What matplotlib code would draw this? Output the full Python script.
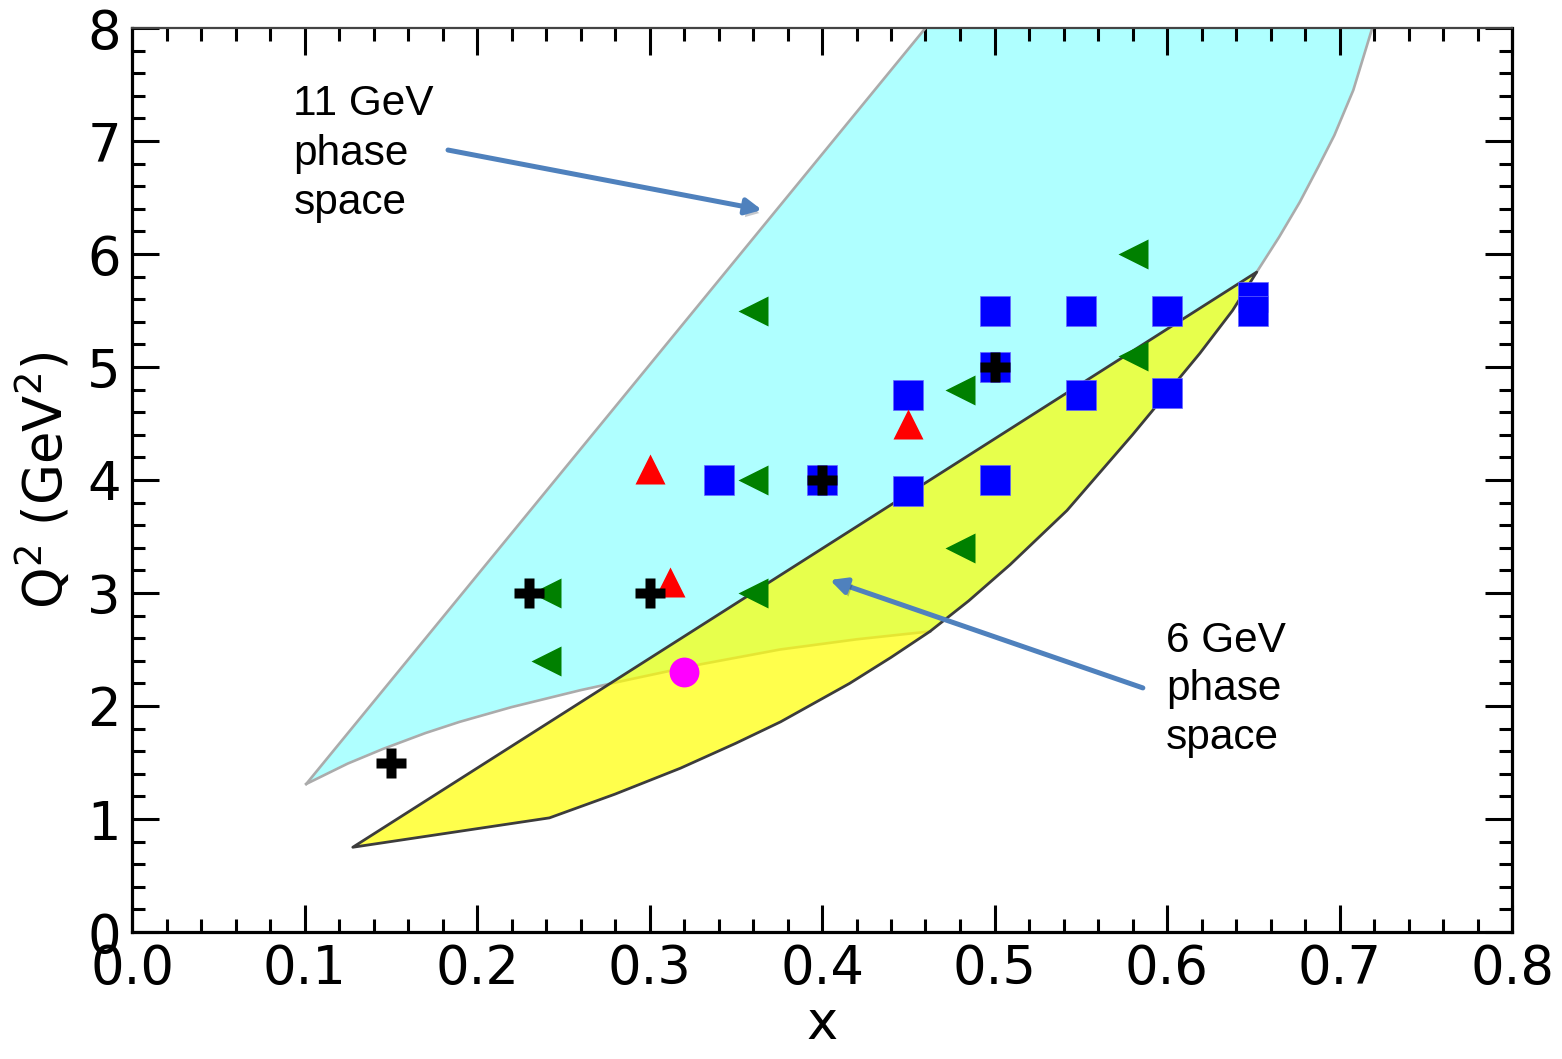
import matplotlib
matplotlib.use("Agg")
import matplotlib.pyplot as plt
import matplotlib.patheffects as pe
from matplotlib.ticker import MultipleLocator

# ---------------- data ----------------
# 11 GeV phase space boundary pieces
ps11_upper_x = [0.101, 0.460]
ps11_upper_y = [1.31, 8.00]
ps11_right_x = [0.652, 0.665, 0.677, 0.688, 0.697, 0.708, 0.719]
ps11_right_y = [5.84, 6.15, 6.46, 6.78, 7.05, 7.45, 8.00]
ps11_lower_x = [0.101, 0.125, 0.1455, 0.17, 0.19, 0.22, 0.26, 0.29, 0.33, 0.3757, 0.42, 0.4626]
ps11_lower_y = [1.31, 1.49, 1.62, 1.76, 1.86, 1.99, 2.14, 2.24, 2.37, 2.50, 2.59, 2.66]

# 6 GeV phase space boundary pieces
ps6_upper_x = [0.128, 0.652]
ps6_upper_y = [0.75, 5.84]
ps6_lower_x = [0.128, 0.242, 0.28, 0.318, 0.35, 0.376, 0.416, 0.44, 0.4626,
               0.485, 0.509, 0.542, 0.580, 0.619, 0.638, 0.652]
ps6_lower_y = [0.75, 1.01, 1.22, 1.45, 1.67, 1.86, 2.20, 2.43, 2.66,
               2.93, 3.25, 3.73, 4.40, 5.12, 5.50, 5.84]

# data points
plus_x = [0.15, 0.23, 0.30, 0.40, 0.50]
plus_y = [1.5, 3.0, 3.0, 4.0, 5.0]
tri_left_x = [0.24, 0.24, 0.36, 0.36, 0.36, 0.48, 0.48, 0.58, 0.58]
tri_left_y = [3.0, 2.4, 5.5, 4.0, 3.0, 4.8, 3.4, 6.0, 5.1]
tri_up_x = [0.30, 0.312, 0.45]
tri_up_y = [4.1, 3.1, 4.5]
sq_x = [0.34, 0.40, 0.45, 0.45, 0.50, 0.50, 0.50, 0.55, 0.55, 0.60, 0.60, 0.65, 0.65]
sq_y = [4.0, 4.0, 4.75, 3.9, 5.5, 5.0, 4.0, 5.5, 4.75, 5.5, 4.77, 5.62, 5.5]
circ_x = [0.32]
circ_y = [2.3]

x_ticks = [0.0, 0.1, 0.2, 0.3, 0.4, 0.5, 0.6, 0.7, 0.8]
y_ticks = [0, 1, 2, 3, 4, 5, 6, 7, 8]

# ---------------- figure ----------------
fig = plt.figure(figsize=(15.62, 10.59), dpi=100)
ax = fig.add_axes([132/1562, 1 - 932/1059, (1512-132)/1562, (932-28)/1059])
ax.set_xlim(0, 0.8)
ax.set_ylim(0, 8)

cyan = '#AFFFFF'
mid_idx = [i for i in range(len(ps6_lower_x))[::-1]
           if 0.4626 < ps6_lower_x[i] < 0.652]
poly11_x = (ps11_upper_x + ps11_right_x[::-1]
            + [ps6_lower_x[i] for i in mid_idx] + ps11_lower_x[::-1])
poly11_y = (ps11_upper_y + ps11_right_y[::-1]
            + [ps6_lower_y[i] for i in mid_idx] + ps11_lower_y[::-1])
ax.fill(poly11_x, poly11_y, facecolor=cyan, edgecolor='none', zorder=1)
edge11 = '#ABABAB'
ax.plot(ps11_upper_x, ps11_upper_y, color=edge11, lw=1.9, zorder=2, solid_joinstyle='round')
ax.plot(ps11_right_x, ps11_right_y, color=edge11, lw=1.9, zorder=2, solid_joinstyle='round')
ax.plot(ps11_lower_x, ps11_lower_y, color=edge11, lw=1.9, zorder=2, solid_joinstyle='round')

# 6 GeV region
poly6_x = ps6_upper_x + ps6_lower_x[::-1][1:]
poly6_y = ps6_upper_y + ps6_lower_y[::-1][1:]
ax.fill(poly6_x, poly6_y, facecolor=(1.0, 1.0, 0.0, 0.7), edgecolor='#3C3C3C',
        lw=2.0, joinstyle='round', zorder=3)

# markers
ax.plot(sq_x, sq_y, linestyle='none', marker='s', markersize=21.5,
        markerfacecolor='#0000FF', markeredgecolor='#6666FF', markeredgewidth=0.5, zorder=5)
ax.plot(tri_left_x, tri_left_y, linestyle='none', marker='<', markersize=22,
        markerfacecolor='#008000', markeredgecolor='none', zorder=6)
ax.plot(tri_up_x, tri_up_y, linestyle='none', marker='^', markersize=22,
        markerfacecolor='#FF0000', markeredgecolor='none', zorder=6)
ax.plot(circ_x, circ_y, linestyle='none', marker='o', markersize=21.5,
        markerfacecolor='#FF00FF', markeredgecolor='none', zorder=6)
ax.plot(plus_x, plus_y, linestyle='none', marker='P', markersize=22,
        markerfacecolor='black', markeredgecolor='none', zorder=7)

# annotations
tfont = dict(family=['Liberation Sans', 'DejaVu Sans'], fontsize=30.5, color='black')
for txt, yy in zip(['11 GeV', 'phase', 'space'], [7.23, 6.79, 6.35]):
    ax.text(0.0935, yy, txt, ha='left', va='baseline', zorder=8, **tfont)
for txt, yy in zip(['6 GeV', 'phase', 'space'], [2.478, 2.053, 1.62]):
    ax.text(0.5995, yy, txt, ha='left', va='baseline', zorder=8, **tfont)

arrow_col = '#4F81BD'
shadow = [pe.SimplePatchShadow(offset=(2, -3), alpha=0.25), pe.Normal()]
a1 = ax.annotate('', xy=(0.3652, 6.39), xytext=(0.1832, 6.92),
                 arrowprops=dict(arrowstyle='-|>', color=arrow_col, lw=3.6,
                                 mutation_scale=24, shrinkA=0, shrinkB=0), zorder=8)
a1.arrow_patch.set_path_effects(shadow)
a2 = ax.annotate('', xy=(0.4046, 3.115), xytext=(0.586, 2.16),
                 arrowprops=dict(arrowstyle='-|>', color=arrow_col, lw=3.6,
                                 mutation_scale=24, shrinkA=0, shrinkB=0), zorder=8)
a2.arrow_patch.set_path_effects(shadow)

# axes styling
ax.set_xticks(x_ticks)
ax.set_yticks(y_ticks)
ax.set_xticklabels([f'{v:.1f}' for v in x_ticks])
ax.set_yticklabels([str(v) for v in y_ticks])
ax.xaxis.set_minor_locator(MultipleLocator(0.02))
ax.yaxis.set_minor_locator(MultipleLocator(0.2))
ax.tick_params(which='both', direction='in', top=True, right=True, width=2.2, colors='black')
ax.tick_params(which='major', length=19.5, labelsize=38, pad=8)
ax.tick_params(which='minor', length=9.5)
for lab in ax.get_xticklabels() + ax.get_yticklabels():
    lab.set_family('DejaVu Sans')
for s in ['left', 'bottom', 'right']:
    ax.spines[s].set_linewidth(2.3)
    ax.spines[s].set_color('black')
ax.spines['top'].set_linewidth(1.6)
ax.spines['top'].set_color('#444444')
for s in ax.spines.values():
    s.set_zorder(10)

ax.set_xlabel('x', fontsize=38, family='DejaVu Sans', labelpad=2)
ax.set_ylabel('Q$^2$ (GeV$^2$)', fontsize=38, family='DejaVu Sans', labelpad=10)

fig.savefig('out.png', dpi=100)
